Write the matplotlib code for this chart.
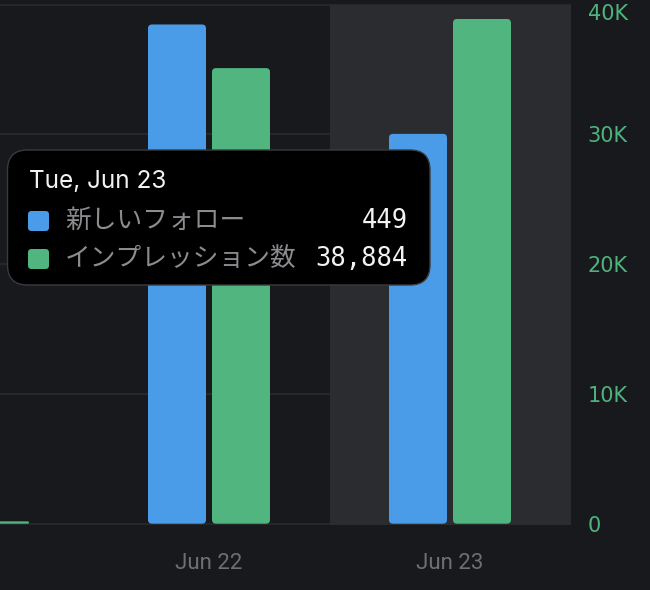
import matplotlib
matplotlib.use("Agg")
import matplotlib.pyplot as plt
from matplotlib.patches import FancyBboxPatch

# ---------------- data ----------------
dates = ["Jun 21", "Jun 22", "Jun 23"]
new_follows = [2, 575, 449]
impressions = [180, 35100, 38884]
right_ticks = [0, 10000, 20000, 30000, 40000]
right_labels = ["0", "10K", "20K", "30K", "40K"]
series_names = ["新しいフォロー", "インプレッション数"]
tooltip_title = "Tue, Jun 23"
tooltip_index = 2

# ---------------- style ----------------
BG = "#18191c"
BAND = "#2b2c30"
GRID = "#2b2c30"
BLUE = "#4a9be8"
GREEN = "#50b57f"
TICK_GREEN = "#4fb37e"
XLAB = "#6e6f73"

W, H = 650, 590
fig = plt.figure(figsize=(W / 100, H / 100), dpi=100, facecolor=BG)

ax_top_px, ax_bot_px, ax_right_px = 3.5, 525.0, 571.0
zero_px = 523.7
px_per_10k = 129.8
g_lo = -(ax_bot_px - zero_px) / px_per_10k * 10000
g_hi = (zero_px - ax_top_px) / px_per_10k * 10000
blue_scale = 598 / 40000.0

ax = fig.add_axes([0, (H - ax_bot_px) / H, ax_right_px / W, (ax_bot_px - ax_top_px) / H])
ax.set_facecolor(BG)
ax2 = ax.twinx()

x_lo, x_hi = 32 / 241, (ax_right_px + 32) / 241

for a in (ax, ax2):
    for s in a.spines.values():
        s.set_visible(False)

# bars
idx = list(range(len(dates)))
bw = 58 / 241
off = 32 / 241
b1 = ax.bar([i - off for i in idx], new_follows, width=bw, color=BLUE, zorder=2)
b2 = ax2.bar([i + off for i in idx], impressions, width=bw, color=GREEN, zorder=2)

# limits (after bars so autoscaling does not override)
for a in (ax, ax2):
    a.set_autoscale_on(False)
ax.set_xlim(x_lo, x_hi)
ax2.set_xlim(x_lo, x_hi)
ax.set_ylim(g_lo * blue_scale, g_hi * blue_scale)
ax2.set_ylim(g_lo, g_hi)

# grid on blue axis (aligned with green ticks)
ax.set_yticks([t * blue_scale for t in right_ticks])
ax.set_yticklabels([])
ax.tick_params(axis="y", length=0, left=False, labelleft=False)
ax.set_axisbelow(True)
ax.grid(axis="y", color=GRID, linewidth=1.1)
ax.grid(axis="x", visible=False)

# highlight band
band_top_frac = (ax_bot_px - 4.7) / (ax_bot_px - ax_top_px)
ax.axvspan(tooltip_index - 0.5, tooltip_index + 0.5, ymin=0, ymax=band_top_frac,
           color=BAND, zorder=1, lw=0)


def round_bars(a, bars, r_px, color):
    p0 = a.transData.transform((0, 0))
    p1 = a.transData.transform((1, 1))
    sx, sy = p1[0] - p0[0], p1[1] - p0[1]
    for b in list(bars):
        x, y, w, h = b.get_x(), b.get_y(), b.get_width(), b.get_height()
        b.remove()
        r = min(r_px, abs(h * sy) / 2, abs(w * sx) / 2)
        p = FancyBboxPatch((x, y), w, h,
                           boxstyle=f"round,pad=0,rounding_size={r / sx}",
                           mutation_aspect=sx / sy, fc=color, ec="none", zorder=2)
        a.add_patch(p)


round_bars(ax, b1, 4.0, BLUE)
round_bars(ax2, b2, 4.0, GREEN)
ax.set_xlim(x_lo, x_hi)
ax.set_ylim(g_lo * blue_scale, g_hi * blue_scale)
ax2.set_ylim(g_lo, g_hi)

# x ticks
ax.set_xticks(idx)
ax.set_xticklabels(dates, fontsize=16, color=XLAB, family=["Roboto", "DejaVu Sans"])
ax.tick_params(axis="x", length=0, pad=20)
ax.set_xlim(x_lo, x_hi)

# right ticks
ax2.set_yticks(right_ticks)
ax2.set_yticklabels(right_labels, fontsize=15, color=TICK_GREEN, family=["DejaVu Sans"])
ax2.tick_params(axis="y", length=0, pad=12)
for lab in ax2.get_yticklabels():
    if lab.get_text() == "40K":
        lab.set_va("top")

# ---------------- tooltip overlay ----------------
ov = fig.add_axes([0, 0, 1, 1], zorder=10)
ov.set_xlim(0, W)
ov.set_ylim(H, 0)
ov.axis("off")
ov.patch.set_visible(False)

ov.add_patch(FancyBboxPatch((7.5, 150), 422.5, 135,
                            boxstyle="round,pad=0,rounding_size=20",
                            fc="#000000", ec="#3a3b3f", lw=1.0))
ov.text(29, 188, tooltip_title, fontsize=17.5, color="#f2f2f2",
        family=["Inter", "DejaVu Sans"], va="baseline", ha="left")

vals = [new_follows[tooltip_index], impressions[tooltip_index]]
cols = [BLUE, GREEN]
rows_y = [221, 259]
for name, v, c, yy in zip(series_names, vals, cols, rows_y):
    ov.add_patch(FancyBboxPatch((28, yy - 10), 21, 20,
                                boxstyle="round,pad=0,rounding_size=3.5",
                                fc=c, ec="none"))
    ov.text(65, yy, name, fontsize=18.5, color="#8b8b90",
            family=["Noto Sans CJK JP", "DejaVu Sans"], va="center", ha="left")
    ov.text(408, yy, f"{v:,}", fontsize=18.4, color="#f2f2f2",
            family=["DejaVu Sans Mono"], va="center", ha="right")

fig.savefig("out.png", dpi=100, facecolor=BG)
